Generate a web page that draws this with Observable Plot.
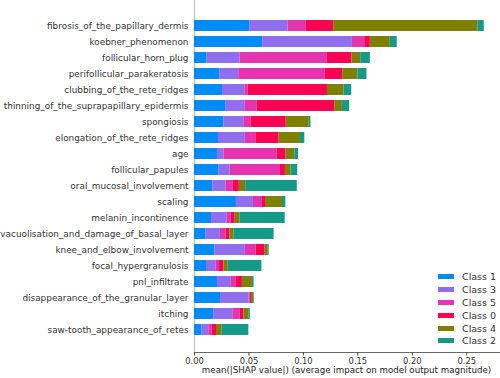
<!DOCTYPE html>
<html>
<head>
<meta charset="utf-8">
<script src="https://cdn.jsdelivr.net/npm/d3@7"></script>
<script src="https://cdn.jsdelivr.net/npm/@observablehq/plot@0.6"></script>
<style>
  html, body { margin: 0; padding: 0; background: #fff; }
  #wrap { position: relative; width: 500px; height: 378px; font-family: "DejaVu Sans", sans-serif; }
  #legend { position: absolute; left: 438px; top: 270px; font-size: 9.5px; color: #333; }
  #legend .item { display: flex; align-items: center; height: 12.9px; }
  #legend .sw { width: 16px; height: 5px; margin-right: 8px; }
</style>
</head>
<body>
<div id="wrap"><div id="legend"></div></div>
<script>
const features = [
  "fibrosis_of_the_papillary_dermis",
  "koebner_phenomenon",
  "follicular_horn_plug",
  "perifollicular_parakeratosis",
  "clubbing_of_the_rete_ridges",
  "thinning_of_the_suprapapillary_epidermis",
  "spongiosis",
  "elongation_of_the_rete_ridges",
  "age",
  "follicular_papules",
  "oral_mucosal_involvement",
  "scaling",
  "melanin_incontinence",
  "vacuolisation_and_damage_of_basal_layer",
  "knee_and_elbow_involvement",
  "focal_hypergranulosis",
  "pnl_infiltrate",
  "disappearance_of_the_granular_layer",
  "itching",
  "saw-tooth_appearance_of_retes"
];
const classes = ["Class 1", "Class 3", "Class 5", "Class 0", "Class 4", "Class 2"];
const classColors = ["#008bfb", "#8f6ef0", "#e534b0", "#ff0052", "#808000", "#159a8a"];

// mean |SHAP| per feature, one array per class (same order as features)
const class1 = [0.0507, 0.0627, 0.0116, 0.0232, 0.0257, 0.0291, 0.0269, 0.0220, 0.0211, 0.0226, 0.0168, 0.0385, 0.0156, 0.0107, 0.0187, 0.0110, 0.0211, 0.0239, 0.0177, 0.0070];
const class3 = [0.0352, 0.0823, 0.0303, 0.0174, 0.0205, 0.0171, 0.0183, 0.0242, 0.0061, 0.0101, 0.0122, 0.0156, 0.0144, 0.0131, 0.0275, 0.0086, 0.0122, 0.0263, 0.0174, 0.0061];
const class5 = [0.0168, 0.0113, 0.0801, 0.0795, 0.0031, 0.0113, 0.0067, 0.0101, 0.0486, 0.0456, 0.0067, 0.0083, 0.0037, 0.0052, 0.0104, 0.0034, 0.0052, 0.0009, 0.0070, 0.0031];
const class0 = [0.0251, 0.0052, 0.0226, 0.0159, 0.0728, 0.0713, 0.0324, 0.0214, 0.0083, 0.0052, 0.0055, 0.0028, 0.0037, 0.0034, 0.0083, 0.0040, 0.0055, 0.0012, 0.0034, 0.0040];
const class4 = [0.1325, 0.0183, 0.0080, 0.0141, 0.0153, 0.0070, 0.0211, 0.0196, 0.0080, 0.0052, 0.0058, 0.0156, 0.0043, 0.0040, 0.0028, 0.0040, 0.0092, 0.0021, 0.0043, 0.0052];
const class2 = [0.0058, 0.0064, 0.0089, 0.0083, 0.0070, 0.0067, 0.0015, 0.0040, 0.0034, 0.0061, 0.0474, 0.0031, 0.0416, 0.0367, 0.0009, 0.0309, 0.0015, 0.0006, 0.0015, 0.0245];
const seriesValues = [class1, class3, class5, class0, class4, class2];

const xTicks = [0, 0.05, 0.10, 0.15, 0.20, 0.25];
const xLabel = "mean(|SHAP value|) (average impact on model output magnitude)";

const rows = [];
classes.forEach((c, ci) => {
  features.forEach((f, fi) => rows.push({feature: f, cls: c, value: seriesValues[ci][fi]}));
});

const chart = Plot.plot({
  width: 500,
  height: 378,
  marginLeft: 194,
  marginRight: 0,
  marginTop: 0,
  marginBottom: 26,
  style: {fontFamily: "DejaVu Sans, sans-serif", fontSize: "8.5px", color: "#333", background: "#fff", overflow: "visible"},
  x: {domain: [0, 0.281], ticks: xTicks, tickFormat: d3.format(".2f"), label: null},
  y: {domain: features, insetTop: 6.5, insetBottom: 4.3, padding: 0.31, label: null},
  color: {domain: classes, range: classColors},
  marks: [
    Plot.ruleX([0], {stroke: "#bbb", strokeWidth: 1}),
    Plot.barX(rows, Plot.stackX({y: "feature", x: "value", fill: "cls", order: classes})),
    Plot.axisY({tickSize: 0, tickPadding: 6, fontSize: 8.9, fill: "#333"}),
    Plot.axisX({ticks: xTicks, tickFormat: d3.format(".2f"), tickSize: 3.5, tickPadding: 2, fontSize: 8.3, fill: "#333", stroke: "#444", label: null}),
    Plot.frame({anchor: "bottom", stroke: "#444", strokeWidth: 0.8}),
    Plot.text([xLabel], {frameAnchor: "bottom", dx: -1, dy: 20, fontSize: 8.7, fill: "#222"})
  ]
});
document.getElementById("wrap").prepend(chart);

const legend = document.getElementById("legend");
classes.forEach((c, i) => {
  const item = document.createElement("div");
  item.className = "item";
  const sw = document.createElement("span");
  sw.className = "sw";
  sw.style.background = classColors[i];
  const t = document.createElement("span");
  t.textContent = c;
  item.append(sw, t);
  legend.append(item);
});
</script>
</body>
</html>
